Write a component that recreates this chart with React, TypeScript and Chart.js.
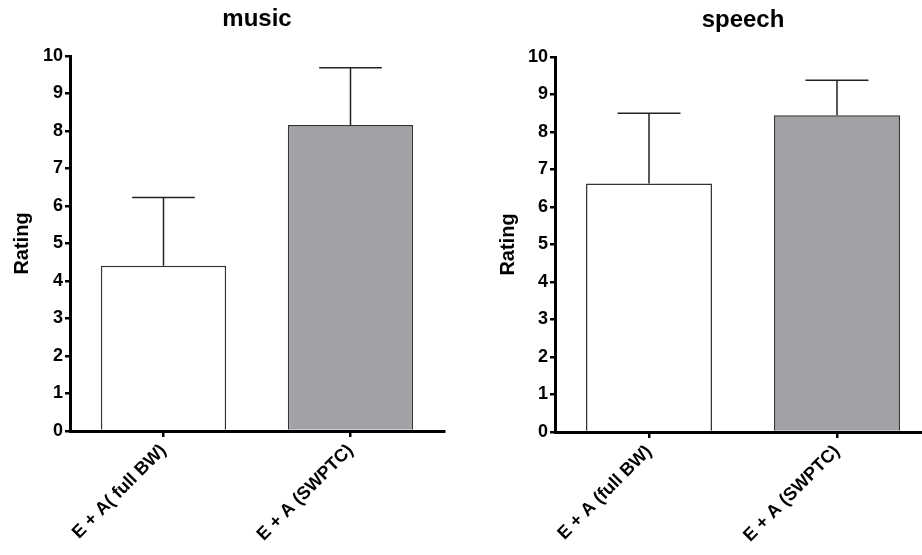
import React, { useEffect, useRef } from "react";
import { Chart, registerables } from "chart.js";

Chart.register(...registerables);

const musicCategories = ["E + A( full BW)", "E + A (SWPTC)"];
const speechCategories = ["E + A (full BW)", "E + A (SWPTC)"];
const musicMeans = [4.41, 8.16];
const musicErrors = [1.82, 1.53];
const speechMeans = [6.63, 8.45];
const speechErrors = [1.87, 0.93];
const barColors = ["#ffffff", "#a2a1a6"];
const yMin = 0;
const yMax = 10;
const yStep = 1;

const FONT = "'Liberation Sans', Arial, Helvetica, sans-serif";

const errorBarPlugin = {
  id: "errorBars",
  afterDatasetsDraw(chart: any, _args: any, opts: any) {
    const errs: number[] = opts.errors || [];
    const values: number[] = chart.data.datasets[0].data;
    const meta = chart.getDatasetMeta(0);
    const yScale = chart.scales.y;
    const ctx = chart.ctx;
    ctx.save();
    ctx.strokeStyle = "#222";
    ctx.lineWidth = 1.5;
    meta.data.forEach((bar: any, i: number) => {
      const p = bar.getProps(["x", "y", "width"], true);
      const yTop = yScale.getPixelForValue(values[i] + errs[i]);
      const half = p.width / 4;
      ctx.beginPath();
      ctx.moveTo(p.x, p.y);
      ctx.lineTo(p.x, yTop);
      ctx.moveTo(p.x - half, yTop);
      ctx.lineTo(p.x + half, yTop);
      ctx.stroke();
    });
    ctx.restore();
  },
};

function makeConfig(
  title: string,
  labels: string[],
  means: number[],
  errors: number[],
  geo: { yWidth: number; xHeight: number; padRight: number; titleTop: number; titleBottom: number; yTitlePad: number }
): any {
  return {
    type: "bar",
    data: {
      labels,
      datasets: [
        {
          data: means,
          backgroundColor: barColors,
          borderColor: "#333",
          borderWidth: 1.5,
          borderSkipped: "bottom",
          barPercentage: 0.67,
          categoryPercentage: 1,
        },
      ],
    },
    plugins: [errorBarPlugin],
    options: {
      responsive: false,
      animation: false,
      devicePixelRatio: 1,
      layout: { padding: { left: 0, right: geo.padRight, top: 0, bottom: 0 } },
      plugins: {
        legend: { display: false },
        tooltip: { enabled: false },
        title: {
          display: true,
          text: title,
          fullSize: false,
          color: "#000",
          font: { family: FONT, size: 24, weight: "bold" },
          padding: { top: geo.titleTop, bottom: geo.titleBottom },
        },
        errorBars: { errors },
      },
      scales: {
        x: {
          afterFit: (s: any) => {
            s.height = geo.xHeight;
          },
          grid: {
            offset: false,
            drawOnChartArea: false,
            drawTicks: true,
            tickLength: 6,
            color: "#000",
            lineWidth: 2.5,
          },
          border: { display: true, color: "#000", width: 3 },
          ticks: {
            color: "#000",
            font: { family: FONT, size: 18, weight: "bold" },
            minRotation: 45,
            maxRotation: 45,
            padding: 3,
          },
        },
        y: {
          min: yMin,
          max: yMax,
          afterFit: (s: any) => {
            s.width = geo.yWidth;
          },
          grid: {
            drawOnChartArea: false,
            drawTicks: true,
            tickLength: 5,
            color: "#000",
            lineWidth: 2.5,
          },
          border: { display: true, color: "#000", width: 3 },
          ticks: {
            stepSize: yStep,
            color: "#000",
            padding: 2,
            font: { family: FONT, size: 18, weight: "bold" },
          },
          title: {
            display: true,
            text: "Rating",
            color: "#000",
            font: { family: FONT, size: 20, weight: "bold" },
            padding: { top: geo.yTitlePad, bottom: 0 },
          },
        },
      },
    },
  };
}

function ChartCanvas({ config, width, height, left }: { config: any; width: number; height: number; left: number }) {
  const ref = useRef<HTMLCanvasElement | null>(null);
  useEffect(() => {
    if (!ref.current) return;
    const chart = new Chart(ref.current, config);
    return () => chart.destroy();
  }, []);
  return (
    <canvas
      ref={ref}
      width={width}
      height={height}
      style={{ position: "absolute", left, top: 0, width, height, display: "block" }}
    />
  );
}

export default function App() {
  const musicConfig = makeConfig("music", musicCategories, musicMeans, musicErrors, {
    yWidth: 70,
    xHeight: 124,
    padRight: 17,
    titleTop: 5,
    titleBottom: 22.2,
    yTitlePad: 10,
  });
  const speechConfig = makeConfig("speech", speechCategories, speechMeans, speechErrors, {
    yWidth: 94,
    xHeight: 123,
    padRight: 10,
    titleTop: 6,
    titleBottom: 22.2,
    yTitlePad: 35,
  });
  return (
    <div
      style={{
        position: "fixed",
        left: 0,
        top: 0,
        width: 922,
        height: 555,
        overflow: "hidden",
        background: "#fff",
      }}
    >
      <ChartCanvas config={musicConfig} width={461} height={555} left={0} />
      <ChartCanvas config={speechConfig} width={480} height={555} left={461} />
    </div>
  );
}
